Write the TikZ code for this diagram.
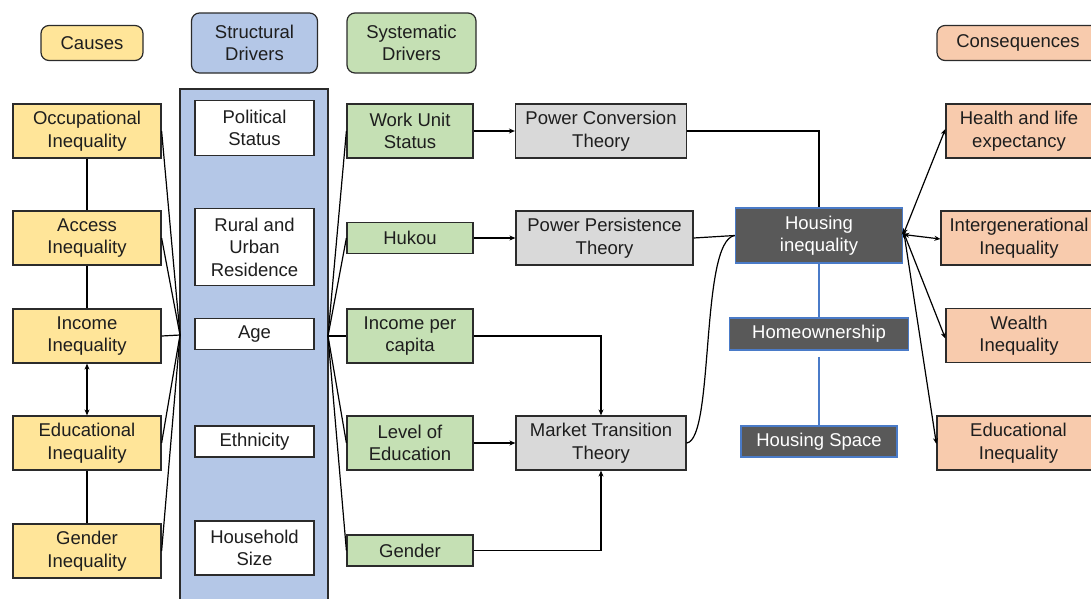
\documentclass[tikz,border=0pt]{standalone}
\usepackage{fontspec}
\setmainfont{Liberation Sans}
\usetikzlibrary{arrows.meta}
\definecolor{edge}{HTML}{2B2B2B}
\definecolor{causefill}{HTML}{FFE599}
\definecolor{structfill}{HTML}{B4C7E7}
\definecolor{systfill}{HTML}{C5E0B4}
\definecolor{theoryfill}{HTML}{D9D9D9}
\definecolor{housefill}{HTML}{595959}
\definecolor{houseedge}{HTML}{4A7BC8}
\definecolor{consfill}{HTML}{F8CBAD}
\definecolor{inktext}{HTML}{1E1E1E}
\begin{document}
\begin{tikzpicture}[x=1pt,y=-1pt,
  box/.style={draw=edge, line width=1.2pt, inner sep=0pt, align=center,
    text=inktext, font=\fontsize{18.5}{22.5}\selectfont},
  hdr/.style={box, rounded corners=8pt},
  causebox/.style={box, fill=causefill},
  structbox/.style={box, fill=white},
  systbox/.style={box, fill=systfill},
  theorybox/.style={box, fill=theoryfill},
  housebox/.style={box, fill=housefill, draw=houseedge, line width=1.5pt, text=white},
  consbox/.style={box, fill=consfill},
  link/.style={draw=black, line width=1.2pt},
  arr/.style={link, -{Stealth[length=6pt,width=5pt]}},
  biarr/.style={link, {Stealth[length=6pt,width=5pt]}-{Stealth[length=6pt,width=5pt]}},
  bluelink/.style={draw=houseedge, line width=1.2pt}]

\useasboundingbox (0,0) rectangle (1091,598);
\clip (0,0) rectangle (1091,598);

% column headers
\node[hdr, fill=causefill, minimum width=102pt, minimum height=35pt] (hcause) at (92,43) {Causes};
\node[hdr, fill=structfill, minimum width=126pt, minimum height=60pt] (hstruct) at (254.5,43) {Structural\\Drivers};
\node[hdr, fill=systfill, minimum width=129pt, minimum height=60pt] (hsyst) at (411.5,43) {Systematic\\Drivers};
\node[hdr, fill=consfill, minimum width=162pt, minimum height=35pt] (hcons) at (1018,43) {Consequences};

% structural drivers column background
\node[box, fill=structfill, minimum width=148pt, minimum height=530pt] (col) at (254,354) {};

% causes
\node[causebox, minimum width=148pt, minimum height=54pt] (occ) at (87,131) {Occupational\\Inequality};
\node[causebox, minimum width=148pt, minimum height=54pt] (acc) at (87,238) {Access\\Inequality};
\node[causebox, minimum width=148pt, minimum height=54pt] (inc) at (87,336) {Income\\Inequality};
\node[causebox, minimum width=148pt, minimum height=54pt] (edu) at (87,443) {Educational\\Inequality};
\node[causebox, minimum width=148pt, minimum height=54pt] (gen) at (87,551) {Gender\\Inequality};

% structural drivers
\node[structbox, minimum width=119pt, minimum height=55pt] (pol) at (254.5,128) {Political\\Status};
\node[structbox, minimum width=119pt, minimum height=77pt] (rur) at (254.5,247) {Rural and\\Urban\\Residence};
\node[structbox, minimum width=119pt, minimum height=31pt] (age) at (254.5,334) {Age};
\node[structbox, minimum width=119pt, minimum height=31pt] (eth) at (254.5,441.5) {Ethnicity};
\node[structbox, minimum width=119pt, minimum height=54pt] (hh) at (254.5,548) {Household\\Size};

% systematic drivers
\node[systbox, minimum width=126pt, minimum height=54pt] (wu) at (410,131) {Work Unit\\Status};
\node[systbox, minimum width=126pt, minimum height=31pt] (huk) at (410,238) {Hukou};
\node[systbox, minimum width=126pt, minimum height=54pt] (ipc) at (410,336) {Income per\\capita};
\node[systbox, minimum width=126pt, minimum height=54pt] (loe) at (410,443) {Level of\\Education};
\node[systbox, minimum width=126pt, minimum height=31pt] (sgen) at (410,550.5) {Gender};

% theories
\node[theorybox, minimum width=171pt, minimum height=54pt] (pct) at (601,131) {Power Conversion\\Theory};
\node[theorybox, minimum width=177pt, minimum height=54pt] (ppt) at (604.5,238) {Power Persistence\\Theory};
\node[theorybox, minimum width=170pt, minimum height=54pt] (mtt) at (601,443) {Market Transition\\Theory};

% housing outcomes
\node[housebox, minimum width=167pt, minimum height=55pt] (hin) at (819,235.5) {Housing\\inequality};
\node[housebox, minimum width=179pt, minimum height=32pt] (hown) at (819,334) {Homeownership};
\node[housebox, minimum width=156pt, minimum height=31pt] (hsp) at (819,441.5) {Housing Space};

% consequences
\node[consbox, minimum width=146pt, minimum height=54pt] (hle) at (1019,131) {Health and life\\expectancy};
\node[consbox, minimum width=156pt, minimum height=54pt] (igi) at (1019,238) {Intergenerational\\Inequality};
\node[consbox, minimum width=146pt, minimum height=54pt] (wi) at (1019,335.5) {Wealth\\Inequality};
\node[consbox, minimum width=163pt, minimum height=54pt] (edi) at (1018.5,443) {Educational\\Inequality};

% convergence points on the structural column
\coordinate (cl) at (180,335);
\coordinate (cr) at (328,336);

% causes into the structural column
\foreach \n in {occ,acc,inc,edu,gen} \draw[link] (\n.east) -- (cl);
% structural column into the systematic drivers
\foreach \n in {wu,huk,ipc,loe,sgen} \draw[link] (cr) -- (\n.west);

% links among causes
\draw[link] (occ.south) -- (acc.north);
\draw[link] (acc.south) -- (inc.north);
\draw[biarr] (inc.south) -- (edu.north);
\draw[link] (edu.south) -- (gen.north);

% systematic drivers into theories
\draw[arr] (wu.east) -- (pct.west);
\draw[arr] (huk.east) -- (ppt.west);
\draw[arr] (loe.east) -- (mtt.west);
\draw[arr] (ipc.east) -| (mtt.north);
\draw[arr] (sgen.east) -| (mtt.south);

% theories into housing inequality
\draw[link] (pct.east) -| (hin.north);
\draw[link] (ppt.east) -- (hin.west);
\draw[link] (mtt.east) .. controls +(28,-3) and +(-35,5) .. (hin.west);

% housing dimensions
\draw[bluelink] (hin.south) -- (hown.north);
\draw[bluelink, shorten <=6pt] (hown.south) -- (hsp.north);

% housing inequality and its consequences
\draw[biarr] ([yshift=1pt]hin.east) -- ([yshift=2pt]hle.west);
\draw[biarr] ([yshift=1pt]hin.east) -- ([yshift=-1pt]igi.west);
\draw[biarr] ([yshift=4pt]hin.east) -- ([yshift=-3pt]wi.west);
\draw[biarr] ([yshift=7pt]hin.east) -- ([yshift=-1pt]edi.west);
\end{tikzpicture}
\end{document}
